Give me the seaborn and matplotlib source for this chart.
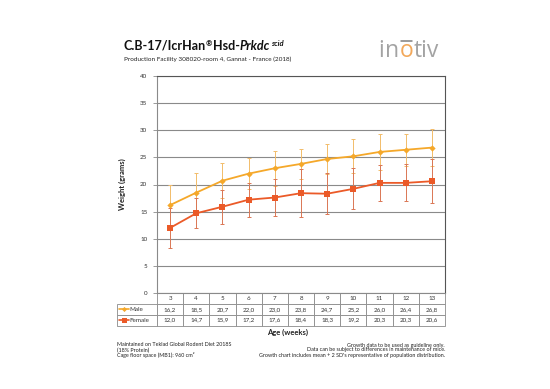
import matplotlib
matplotlib.use("Agg")
import matplotlib.pyplot as plt
import seaborn as sns
import pandas as pd
import numpy as np
from matplotlib.lines import Line2D

weeks = ["3", "4", "5", "6", "7", "8", "9", "10", "11", "12", "13"]
male = [16.2, 18.5, 20.7, 22.0, 23.0, 23.8, 24.7, 25.2, 26.0, 26.4, 26.8]
female = [12.0, 14.7, 15.9, 17.2, 17.6, 18.4, 18.3, 19.2, 20.3, 20.3, 20.6]
male_err = [3.7, 3.7, 3.2, 2.8, 3.2, 2.8, 2.8, 3.1, 3.3, 3.0, 3.4]
female_err = [3.7, 2.8, 3.1, 3.1, 3.4, 4.4, 3.8, 3.8, 3.3, 3.4, 4.1]
yticks = [0, 5, 10, 15, 20, 25, 30, 35, 40]

MALE_C = "#F5A82A"
FEMALE_C = "#EB5A28"
MALE_E = "#F2BC6A"
FEMALE_E = "#DA7654"

sns.set_theme(style="white")
plt.rcParams["font.family"] = ["Lato", "DejaVu Sans"]

W, H = 550, 389
fig = plt.figure(figsize=(5.5, 3.89), dpi=100)
L, R, T, B = 157, 445, 76, 293
ax = fig.add_axes([L / W, 1 - B / H, (R - L) / W, (B - T) / H])

df = pd.DataFrame({"pos": list(range(len(weeks))) * 2,
                   "weight": male + female,
                   "sex": ["Male"] * len(weeks) + ["Female"] * len(weeks)})
pos = np.arange(len(weeks))

ax.errorbar(pos, male, yerr=male_err, fmt="none", ecolor=MALE_E, elinewidth=0.7,
            capsize=1.5, capthick=0.7, zorder=2)
ax.errorbar(pos, female, yerr=female_err, fmt="none", ecolor=FEMALE_E, elinewidth=0.7,
            capsize=1.5, capthick=0.7, zorder=2)

sns.lineplot(data=df[df.sex == "Male"], x="pos", y="weight", ax=ax, color=MALE_C,
             marker="D", markersize=3.2, markeredgewidth=0, linewidth=1.3, legend=False, zorder=3)
sns.lineplot(data=df[df.sex == "Female"], x="pos", y="weight", ax=ax, color=FEMALE_C,
             marker="s", markersize=5, markeredgewidth=0, linewidth=1.3, legend=False, zorder=3)

ax.set_xlim(-0.5, len(weeks) - 0.5)
ax.set_ylim(0, 40)
ax.set_yticks(yticks)
ax.set_yticklabels([str(v) for v in yticks], fontsize=4.5, color="#333333")
ax.set_xticks([])
ax.set_xlabel("")
ax.set_ylabel("Weight (grams)", fontsize=5.5, fontweight="bold", labelpad=10, color="#222222")
ax.grid(axis="y", color="#8a8a8a", linewidth=0.8)
ax.set_axisbelow(True)
for s in ["top", "right"]:
    ax.spines[s].set_color("#555555")
    ax.spines[s].set_linewidth(0.8)
ax.spines["left"].set_color("#8a8a8a")
ax.spines["left"].set_linewidth(0.8)
ax.spines["bottom"].set_color("#8a8a8a")
ax.spines["bottom"].set_linewidth(0.8)
ax.tick_params(axis="y", length=3, width=0.6, color="#8a8a8a", pad=4, left=True)

# data table
cell_text = [[""] + weeks,
             ["Male"] + [f"{v:.1f}".replace(".", ",") for v in male],
             ["Female"] + [f"{v:.1f}".replace(".", ",") for v in female]]
tl, tr, tt, tb = 117, 445, 293, 325.5
aw, ah = R - L, B - T
bbox = [(tl - L) / aw, -(tb - tt) / ah, (tr - tl) / aw, (tb - tt) / ah]
first_w = (L - tl) / (tr - tl)
other_w = (1 - first_w) / len(weeks)
tab = ax.table(cellText=cell_text, bbox=bbox, cellLoc="center",
               colWidths=[first_w] + [other_w] * len(weeks))
tab.auto_set_font_size(False)
for (r, c), cell in tab.get_celld().items():
    cell.set_edgecolor("#8a8a8a")
    cell.set_linewidth(0.6)
    cell.get_text().set_fontsize(4.5)
    cell.get_text().set_color("#333333")
    if r == 0 and c == 0:
        cell.visible_edges = ""
    if c == 0 and r > 0:
        cell._loc = "left"
        cell.get_text().set_ha("left")
        cell.PAD = 0.3

# legend keys in the table
for i, (col, mk, ms) in enumerate([(MALE_C, "D", 2.6), (FEMALE_C, "s", 3.6)]):
    yc = 1 - (293 + 10.8 * (i + 1) + 5.4) / H
    fig.add_artist(Line2D([119 / W, 129 / W], [yc, yc], color=col, lw=1.2,
                          transform=fig.transFigure))
    fig.add_artist(Line2D([124 / W], [yc], color=col, marker=mk, ms=ms, mew=0,
                          transform=fig.transFigure))

fig.text(288 / W, 1 - 332 / H, "Age (weeks)", fontsize=5.5, fontweight="bold",
         ha="center", va="center", color="#222222")

# title
renderer = fig.canvas.get_renderer()
base = 1 - 50 / H
x = 123 / W
parts = [("C.B-17/IcrHan", 9, "normal", 0), ("\u00ae", 5.5, "normal", 4),
         ("Hsd-", 9, "normal", 0), ("Prkdc", 9, "italic", 0), ("scid", 5.5, "italic", 4)]
for txt, size, style, rise in parts:
    t = fig.text(x, base + rise / H, txt, fontsize=size, fontweight="bold", style=style,
                 ha="left", va="baseline", color="#111111")
    fig.canvas.draw()
    x = t.get_window_extent(renderer).x1 / W + 0.0008
fig.text(124 / W, 1 - 59 / H, "Production Facility 308020-room 4, Gannat - France (2018)",
         fontsize=4.6, ha="left", va="center", color="#222222")

# logo
x = 378 / W
ly = 1 - 57 / H
logo_parts = [("i", "#A3A3A3"), ("n", "#A3A3A3"), ("o", "#F2A85A"), ("tiv", "#A3A3A3")]
for txt, c in logo_parts:
    tt_ = fig.text(x, ly, txt, fontsize=16.5, color=c, ha="left", va="baseline",
                   family=["Open Sans", "DejaVu Sans"], fontweight="normal")
    fig.canvas.draw()
    bb = tt_.get_window_extent(renderer)
    if txt == "o":
        fig.add_artist(Line2D([bb.x0 / W + 0.003, bb.x1 / W - 0.003], [1 - 41 / H, 1 - 41 / H],
                              color="#808080", lw=1.1, transform=fig.transFigure))
    x = bb.x1 / W + 0.0015

# footer
fs = 3.9
fig.text(117 / W, 1 - 345 / H, "Maintained on Teklad Global Rodent Diet 2018S", fontsize=fs,
         ha="left", va="center", color="#222222")
fig.text(117 / W, 1 - 350 / H, "(18% Protein)", fontsize=fs, ha="left", va="center", color="#222222")
fig.text(117 / W, 1 - 355 / H, "Cage floor space (MB1): 960 cm\u00b2", fontsize=fs,
         ha="left", va="center", color="#222222")
fig.text(445 / W, 1 - 345 / H, "Growth data to be used as guideline only.", fontsize=fs,
         ha="right", va="center", color="#222222")
fig.text(445 / W, 1 - 350 / H, "Data can be subject to differences in maintenance of mice.",
         fontsize=fs, ha="right", va="center", color="#222222")
fig.text(445 / W, 1 - 355 / H,
         "Growth chart includes mean + 2 SD's representative of population distribution.",
         fontsize=fs, ha="right", va="center", color="#222222")

fig.savefig("out.png", dpi=100)
